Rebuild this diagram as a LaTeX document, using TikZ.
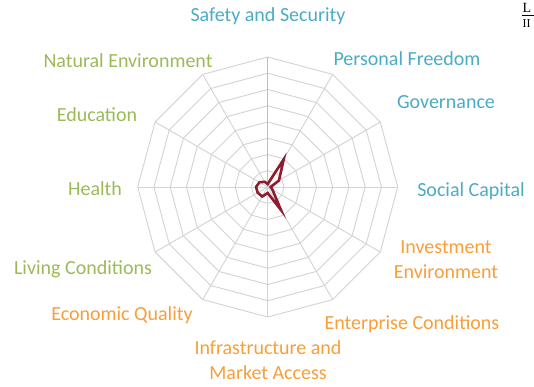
\documentclass[tikz,border=0pt]{standalone}
\usepackage{fontspec}
\setmainfont{Carlito}
\newfontfamily\logoserif{Liberation Serif}
\definecolor{cblue}{HTML}{4BACC6}
\definecolor{corange}{HTML}{F79F3A}
\definecolor{cgreen}{HTML}{9BBB59}
\definecolor{cgrid}{HTML}{D3D3D3}
\definecolor{caxis}{HTML}{BDBDBD}
\definecolor{cdata}{HTML}{8E1B2E}
\begin{document}
\begin{tikzpicture}[x=1pt,y=-1pt,
  lab/.style={font=\fontsize{20}{24}\selectfont, anchor=base, inner sep=0pt, align=center},
  gridline/.style={draw=cgrid, line width=0.9pt},
  axisline/.style={draw=caxis, line width=1.3pt},
  dataline/.style={draw=cdata, line width=2.6pt, line join=miter}]
\path[fill=white] (0,0) rectangle (534,387);
\useasboundingbox (0,0) rectangle (534,387);
\coordinate (C) at (267.7,187);
\begin{scope}[shift={(C)}]
  \foreach \i in {1,...,8}
    \draw[gridline] (-90:\i*16.25) \foreach \k in {1,...,11} { -- ({-90+30*\k}:\i*16.25) } -- cycle;
  \foreach \k in {1,...,11}
    \draw[gridline] (0,0) -- ({-90+30*\k}:130);
  \draw[axisline] (0,0) -- (-90:130);
  \draw[dataline] (-90:3) -- (-60:32) -- (-30:13) -- (0:3) -- (30:5.5) -- (60:26.5)
    -- (90:6) -- (120:11) -- (150:11.5) -- (180:11.7) -- (210:9.5) -- (240:6) -- cycle;
\end{scope}
% labels
\node[lab, text=cblue] (safety) at (268,22) {Safety and Security};
\node[lab, text=cblue] (freedom) at (407,66) {Personal Freedom};
\node[lab, text=cblue] (gov) at (446,109) {Governance};
\node[lab, text=cblue] (social) at (471,196) {Social Capital};
\node[lab, text=corange] (invest1) at (446,253) {Investment};
\node[lab, text=corange] (invest2) at (446,278) {Environment};
\node[lab, text=corange] (enterprise) at (412,329) {Enterprise Conditions};
\node[lab, text=corange] (infra1) at (268,354) {Infrastructure and};
\node[lab, text=corange] (infra2) at (268,379) {Market Access};
\node[lab, text=corange] (econ) at (122,320) {Economic Quality};
\node[lab, text=cgreen] (living) at (83,274) {Living Conditions};
\node[lab, text=cgreen] (health) at (95,195) {Health};
\node[lab, text=cgreen] (edu) at (97,122) {Education};
\node[lab, text=cgreen] (nature) at (128,68) {Natural Environment};
% cut-off logo in the corner
\node[font=\logoserif\fontsize{14}{14}\selectfont, anchor=base west, inner sep=0pt] (logoL) at (522.5,13) {L};
\node[font=\logoserif\fontsize{12}{12}\selectfont, anchor=base west, inner sep=0pt] (logoI) at (522.5,28) {II};
\draw[line width=0.5pt] (522,15.5) -- (534,15.5);
\end{tikzpicture}
\end{document}
